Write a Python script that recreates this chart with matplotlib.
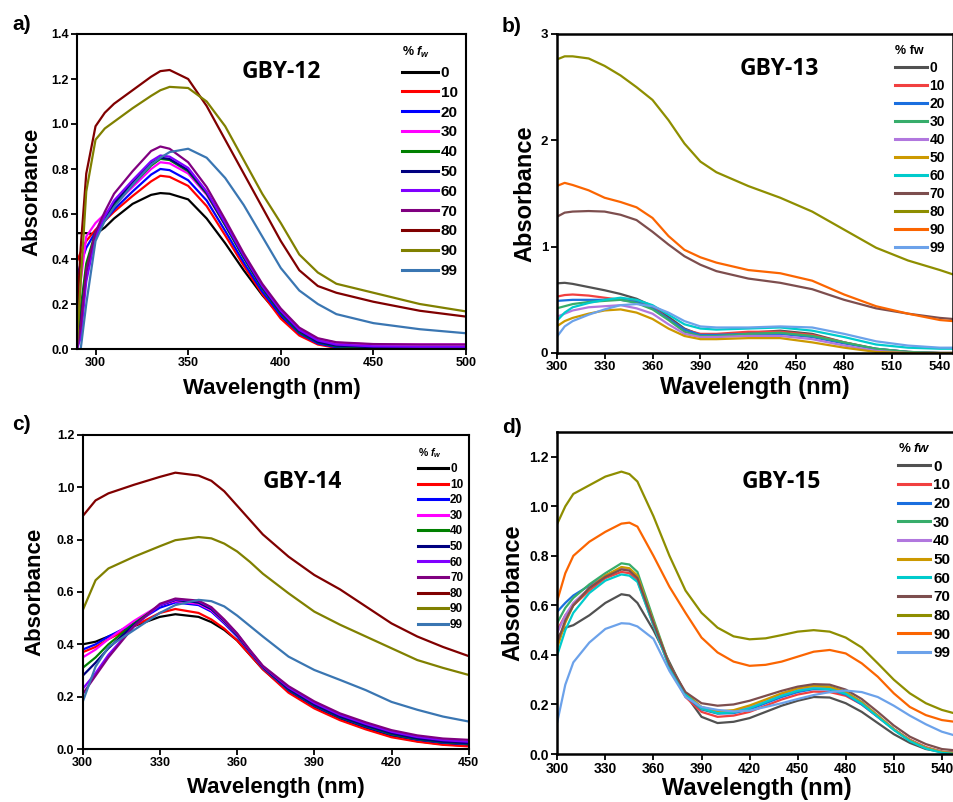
import numpy as np
import matplotlib.pyplot as plt
from matplotlib.ticker import MultipleLocator, FormatStrFormatter

plt.rcParams['font.family'] = ['Liberation Sans', 'DejaVu Sans']
plt.rcParams['font.weight'] = 'bold'
plt.rcParams['mathtext.fontset'] = 'custom'
plt.rcParams['mathtext.it'] = 'Liberation Sans:italic:bold'
plt.rcParams['mathtext.rm'] = 'Liberation Sans:bold'

# water fraction (%) for every series
fw = ['0', '10', '20', '30', '40', '50', '60', '70', '80', '90', '99']

# Origin "standard" and "colorful" palettes
std_colors = ['#000000', '#ff0000', '#0000ff', '#ff00ff', '#008000', '#000080',
              '#8000ff', '#800080', '#800000', '#808000', '#3a76b2']
colorful = ['#515151', '#f14040', '#1a6fdf', '#37ad6b', '#b177de', '#cc9900',
            '#00cbcc', '#7d4e4e', '#8e8e00', '#fb6501', '#6ca2ea']

# ---- GBY-12 ----
a_wl = [290, 292, 295, 300, 305, 310, 320, 330, 335, 340, 350, 360, 370, 380,
        390, 400, 410, 420, 430, 450, 475, 500]
a_abs = [
    [0.515, 0.515, 0.515, 0.51, 0.54, 0.58, 0.645, 0.685, 0.693, 0.69, 0.665, 0.58, 0.47, 0.35, 0.24, 0.145, 0.07, 0.025, 0.008, 0.002, 0.0, 0.0],
    [0.39, 0.43, 0.48, 0.53, 0.57, 0.61, 0.68, 0.745, 0.77, 0.765, 0.725, 0.635, 0.505, 0.37, 0.245, 0.135, 0.06, 0.02, 0.005, 0.0, 0.0, 0.0],
    [0.32, 0.38, 0.45, 0.52, 0.57, 0.62, 0.70, 0.775, 0.80, 0.795, 0.75, 0.66, 0.525, 0.385, 0.255, 0.15, 0.07, 0.025, 0.008, 0.003, 0.002, 0.002],
    [0.05, 0.30, 0.50, 0.56, 0.60, 0.64, 0.72, 0.80, 0.83, 0.825, 0.78, 0.685, 0.55, 0.41, 0.28, 0.175, 0.09, 0.045, 0.028, 0.02, 0.02, 0.02],
    [0.02, 0.18, 0.38, 0.52, 0.58, 0.64, 0.73, 0.815, 0.845, 0.84, 0.79, 0.69, 0.55, 0.405, 0.27, 0.16, 0.075, 0.03, 0.012, 0.006, 0.005, 0.005],
    [0.0, 0.12, 0.34, 0.50, 0.58, 0.65, 0.74, 0.825, 0.85, 0.845, 0.795, 0.695, 0.555, 0.41, 0.275, 0.165, 0.08, 0.032, 0.015, 0.008, 0.007, 0.007],
    [0.0, 0.05, 0.30, 0.50, 0.59, 0.66, 0.75, 0.835, 0.86, 0.855, 0.805, 0.70, 0.56, 0.415, 0.28, 0.17, 0.085, 0.038, 0.02, 0.012, 0.01, 0.01],
    [0.0, 0.10, 0.35, 0.52, 0.61, 0.69, 0.79, 0.88, 0.90, 0.89, 0.83, 0.72, 0.575, 0.425, 0.29, 0.18, 0.095, 0.048, 0.03, 0.022, 0.02, 0.02],
    [0.15, 0.45, 0.78, 0.99, 1.05, 1.09, 1.15, 1.21, 1.235, 1.24, 1.2, 1.08, 0.93, 0.78, 0.63, 0.48, 0.35, 0.28, 0.25, 0.21, 0.17, 0.144],
    [0.02, 0.30, 0.70, 0.93, 0.98, 1.01, 1.07, 1.125, 1.15, 1.165, 1.16, 1.10, 0.99, 0.84, 0.69, 0.56, 0.42, 0.34, 0.29, 0.25, 0.2, 0.167],
    [-0.1, 0.0, 0.2, 0.48, 0.57, 0.63, 0.73, 0.82, 0.85, 0.875, 0.89, 0.85, 0.76, 0.64, 0.5, 0.36, 0.26, 0.2, 0.155, 0.115, 0.088, 0.07],
]

# ---- GBY-13 ----
b_wl = [300, 305, 310, 320, 330, 340, 350, 360, 370, 380, 390, 400, 420, 440,
        460, 480, 500, 520, 540, 548]
b_abs = [
    [0.655, 0.66, 0.65, 0.62, 0.59, 0.555, 0.51, 0.44, 0.34, 0.23, 0.17, 0.16, 0.19, 0.21, 0.18, 0.1, 0.035, 0.01, 0.0, 0.0],
    [0.53, 0.545, 0.55, 0.54, 0.52, 0.5, 0.49, 0.43, 0.32, 0.22, 0.18, 0.18, 0.2, 0.2, 0.17, 0.1, 0.04, 0.01, 0.0, 0.0],
    [0.49, 0.495, 0.5, 0.5, 0.5, 0.5, 0.48, 0.42, 0.32, 0.22, 0.17, 0.17, 0.18, 0.18, 0.15, 0.09, 0.04, 0.01, 0.0, 0.0],
    [0.42, 0.44, 0.46, 0.48, 0.49, 0.5, 0.47, 0.41, 0.31, 0.2, 0.16, 0.16, 0.18, 0.19, 0.16, 0.1, 0.04, 0.01, 0.0, 0.0],
    [0.34, 0.37, 0.4, 0.43, 0.44, 0.45, 0.42, 0.37, 0.27, 0.18, 0.15, 0.15, 0.16, 0.16, 0.13, 0.07, 0.02, 0.0, 0.0, 0.0],
    [0.25, 0.3, 0.33, 0.37, 0.4, 0.41, 0.38, 0.32, 0.23, 0.16, 0.13, 0.13, 0.14, 0.14, 0.1, 0.05, 0.01, 0.0, 0.0, 0.0],
    [0.3, 0.38, 0.43, 0.47, 0.5, 0.52, 0.5, 0.45, 0.36, 0.27, 0.23, 0.22, 0.23, 0.24, 0.21, 0.15, 0.08, 0.05, 0.04, 0.04],
    [1.28, 1.32, 1.33, 1.335, 1.33, 1.3, 1.25, 1.14, 1.02, 0.91, 0.83, 0.77, 0.7, 0.66, 0.6, 0.5, 0.42, 0.37, 0.33, 0.32],
    [2.76, 2.79, 2.79, 2.77, 2.7, 2.61, 2.5, 2.38, 2.19, 1.97, 1.8, 1.7, 1.57, 1.46, 1.33, 1.16, 0.99, 0.87, 0.78, 0.74],
    [1.57, 1.6, 1.58, 1.53, 1.46, 1.42, 1.37, 1.27, 1.1, 0.97, 0.9, 0.85, 0.78, 0.75, 0.68, 0.55, 0.44, 0.37, 0.31, 0.3],
    [0.15, 0.25, 0.3, 0.36, 0.41, 0.45, 0.46, 0.44, 0.38, 0.3, 0.25, 0.24, 0.24, 0.25, 0.24, 0.18, 0.11, 0.07, 0.05, 0.05],
]

# ---- GBY-14 ----
c_wl = [300, 305, 310, 320, 330, 336, 345, 350, 355, 360, 365, 370, 380, 390,
        400, 410, 420, 430, 440, 450]
c_abs = [
    [0.40, 0.41, 0.43, 0.47, 0.505, 0.515, 0.505, 0.485, 0.455, 0.415, 0.36, 0.305, 0.22, 0.16, 0.115, 0.08, 0.05, 0.03, 0.018, 0.012],
    [0.37, 0.39, 0.42, 0.47, 0.52, 0.535, 0.52, 0.495, 0.46, 0.415, 0.36, 0.305, 0.215, 0.155, 0.11, 0.075, 0.045, 0.028, 0.016, 0.01],
    [0.38, 0.40, 0.43, 0.48, 0.54, 0.56, 0.55, 0.525, 0.48, 0.43, 0.37, 0.31, 0.225, 0.165, 0.12, 0.085, 0.055, 0.036, 0.024, 0.018],
    [0.35, 0.38, 0.42, 0.49, 0.55, 0.565, 0.555, 0.53, 0.485, 0.435, 0.372, 0.312, 0.23, 0.17, 0.125, 0.09, 0.06, 0.042, 0.03, 0.025],
    [0.31, 0.35, 0.40, 0.48, 0.55, 0.57, 0.56, 0.535, 0.488, 0.436, 0.373, 0.313, 0.228, 0.168, 0.122, 0.088, 0.057, 0.038, 0.026, 0.02],
    [0.28, 0.33, 0.385, 0.475, 0.55, 0.57, 0.56, 0.535, 0.49, 0.437, 0.374, 0.314, 0.23, 0.17, 0.124, 0.09, 0.06, 0.04, 0.028, 0.022],
    [0.23, 0.29, 0.36, 0.47, 0.55, 0.572, 0.565, 0.54, 0.492, 0.44, 0.376, 0.316, 0.235, 0.176, 0.13, 0.096, 0.066, 0.046, 0.034, 0.028],
    [0.21, 0.28, 0.35, 0.47, 0.555, 0.575, 0.567, 0.542, 0.495, 0.442, 0.378, 0.318, 0.24, 0.182, 0.136, 0.102, 0.072, 0.052, 0.04, 0.035],
    [0.89, 0.95, 0.977, 1.01, 1.04, 1.056, 1.045, 1.025, 0.985, 0.93, 0.875, 0.82, 0.735, 0.665, 0.61, 0.545, 0.48, 0.43, 0.39, 0.355],
    [0.53, 0.645, 0.69, 0.735, 0.775, 0.798, 0.81, 0.805, 0.785, 0.755, 0.715, 0.67, 0.595, 0.525, 0.475, 0.43, 0.385, 0.34, 0.31, 0.283],
    [0.18, 0.315, 0.39, 0.455, 0.52, 0.55, 0.57, 0.565, 0.545, 0.51, 0.47, 0.43, 0.353, 0.302, 0.264, 0.225, 0.18, 0.15, 0.124, 0.105],
]

# ---- GBY-15 ----
d_wl = [300, 305, 310, 320, 330, 340, 345, 350, 360, 370, 380, 390, 400, 410,
        420, 430, 440, 450, 460, 470, 480, 490, 500, 510, 520, 530, 540, 548]
d_abs = [
    [0.47, 0.51, 0.52, 0.56, 0.61, 0.645, 0.64, 0.61, 0.5, 0.37, 0.24, 0.15, 0.125, 0.13, 0.145, 0.17, 0.195, 0.215, 0.23, 0.228, 0.205, 0.17, 0.125, 0.08, 0.045, 0.02, 0.008, 0.005],
    [0.50, 0.56, 0.6, 0.66, 0.71, 0.735, 0.73, 0.70, 0.52, 0.35, 0.23, 0.17, 0.15, 0.155, 0.17, 0.195, 0.22, 0.24, 0.252, 0.25, 0.235, 0.2, 0.15, 0.1, 0.058, 0.028, 0.01, 0.005],
    [0.575, 0.61, 0.64, 0.68, 0.72, 0.75, 0.745, 0.715, 0.53, 0.355, 0.235, 0.18, 0.163, 0.165, 0.18, 0.205, 0.23, 0.25, 0.262, 0.26, 0.24, 0.2, 0.15, 0.1, 0.055, 0.025, 0.008, 0.003],
    [0.53, 0.59, 0.63, 0.685, 0.73, 0.77, 0.765, 0.735, 0.545, 0.36, 0.24, 0.182, 0.165, 0.17, 0.19, 0.215, 0.24, 0.262, 0.275, 0.272, 0.25, 0.21, 0.155, 0.1, 0.055, 0.025, 0.008, 0.003],
    [0.49, 0.56, 0.61, 0.67, 0.72, 0.75, 0.745, 0.715, 0.53, 0.355, 0.24, 0.185, 0.168, 0.172, 0.19, 0.213, 0.237, 0.258, 0.27, 0.268, 0.248, 0.208, 0.155, 0.1, 0.055, 0.025, 0.008, 0.003],
    [0.43, 0.53, 0.6, 0.67, 0.72, 0.755, 0.75, 0.72, 0.535, 0.36, 0.245, 0.19, 0.172, 0.177, 0.196, 0.22, 0.245, 0.265, 0.275, 0.27, 0.25, 0.208, 0.155, 0.1, 0.055, 0.025, 0.008, 0.003],
    [0.40, 0.5, 0.57, 0.65, 0.7, 0.725, 0.72, 0.695, 0.52, 0.35, 0.24, 0.185, 0.165, 0.168, 0.185, 0.21, 0.235, 0.255, 0.265, 0.262, 0.243, 0.203, 0.15, 0.097, 0.052, 0.022, 0.005, 0.0],
    [0.45, 0.54, 0.6, 0.67, 0.715, 0.745, 0.74, 0.71, 0.53, 0.36, 0.25, 0.205, 0.195, 0.2, 0.215, 0.235, 0.255, 0.272, 0.282, 0.28, 0.26, 0.222, 0.17, 0.115, 0.07, 0.04, 0.02, 0.015],
    [0.93, 1.0, 1.05, 1.085, 1.12, 1.14, 1.13, 1.1, 0.96, 0.8, 0.66, 0.57, 0.51, 0.475, 0.463, 0.467, 0.48, 0.494, 0.5, 0.494, 0.47, 0.43, 0.366, 0.3, 0.245, 0.205, 0.178, 0.164],
    [0.62, 0.73, 0.8, 0.857, 0.897, 0.93, 0.934, 0.918, 0.8, 0.675, 0.57, 0.47, 0.41, 0.373, 0.356, 0.36, 0.373, 0.393, 0.413, 0.42, 0.406, 0.366, 0.312, 0.245, 0.19, 0.157, 0.137, 0.13],
    [0.13, 0.28, 0.37, 0.45, 0.505, 0.528, 0.526, 0.515, 0.465, 0.335, 0.23, 0.19, 0.178, 0.172, 0.175, 0.19, 0.205, 0.222, 0.238, 0.25, 0.256, 0.25, 0.23, 0.195, 0.155, 0.12, 0.09, 0.075],
]

W, H = 954, 802
fig = plt.figure(figsize=(W / 100, H / 100), dpi=100)


def px_axes(left, top, right, bottom):
    return fig.add_axes([left / W, 1 - bottom / H, (right - left) / W, (bottom - top) / H])


def draw_panel(ax, wl, abs_rows, colors, name, name_pos, xlim, ylim, xstep, ystep,
               yfmt, lab_size, tick_size, xlab_y, ylab_x, leg_title, leg_anchor,
               leg_size, leg_title_size, handlelen, labspace, spine_w):
    for row, col, lab in zip(abs_rows, colors, fw):
        ax.plot(wl, row, color=col, lw=1.6, label=lab)
    ax.set_xlim(*xlim)
    ax.set_ylim(*ylim)
    ax.xaxis.set_major_locator(MultipleLocator(xstep))
    ax.yaxis.set_major_locator(MultipleLocator(ystep))
    ax.yaxis.set_major_formatter(FormatStrFormatter(yfmt))
    ax.tick_params(direction='out', length=4, width=1.3, labelsize=tick_size, pad=2)
    for sp in ax.spines.values():
        sp.set_linewidth(spine_w)
    ax.set_xlabel('Wavelength (nm)', fontsize=lab_size, fontweight='bold', va='center')
    ax.set_ylabel('Absorbance', fontsize=lab_size, fontweight='bold', va='center')
    ax.xaxis.set_label_coords(0.5, xlab_y)
    ax.yaxis.set_label_coords(ylab_x, 0.5)
    ax.text(name_pos[0], name_pos[1], name, transform=ax.transAxes, ha='center',
            va='center', fontsize=16.5, fontweight='bold', family=['Open Sans', 'DejaVu Sans'])
    leg = ax.legend(loc='upper left', bbox_to_anchor=leg_anchor, frameon=False,
                    fontsize=leg_size, title=leg_title, title_fontsize=leg_title_size,
                    handlelength=handlelen, handletextpad=0.2, labelspacing=labspace,
                    borderpad=0, borderaxespad=0, alignment='left')
    for t in leg.get_texts():
        t.set_fontweight('bold')
    leg.get_title().set_fontweight('bold')
    for ln in leg.get_lines():
        ln.set_linewidth(2.2)


ax_a = px_axes(77, 34, 466, 349)
draw_panel(ax_a, a_wl, a_abs, std_colors, 'GBY-12', (0.524, 0.88), (290, 500), (0, 1.4),
           50, 0.2, '%.1f', 16, 9, -0.124, -0.116, r'% $f_w$', (0.835, 0.965),
           11, 9, 2.35, 0.38, 1.5)

ax_b = px_axes(556.7, 34, 952.7, 353)
draw_panel(ax_b, b_wl, b_abs, colorful, 'GBY-13', (0.562, 0.89), (300, 548), (0, 3),
           30, 1, '%d', 17, 9.5, -0.107, -0.08, '% fw', (0.854, 0.967),
           10, 9, 2.3, 0.29, 1.8)

ax_c = px_axes(82.7, 435, 468.7, 749)
draw_panel(ax_c, c_wl, c_abs, std_colors, 'GBY-14', (0.568, 0.851), (300, 450), (0, 1.2),
           30, 0.2, '%.1f', 16, 9, -0.124, -0.124, r'% $f_w$', (0.869, 0.965),
           8.5, 7.5, 2.5, 0.3, 1.5)

ax_d = px_axes(557.3, 432, 956.3, 754)
draw_panel(ax_d, d_wl, d_abs, colorful, 'GBY-15', (0.562, 0.844), (300, 549), (0, 1.3),
           30, 0.2, '%.1f', 17, 10, -0.106, -0.111, r'% $fw$', (0.854, 0.969),
           11, 9.5, 2.1, 0.305, 1.8)
ax_d.set_yticks(np.arange(0, 1.21, 0.2))

for lab, (x, y) in zip(['a)', 'b)', 'c)', 'd)'], [(22, 24), (512, 27), (21, 425), (512, 428)]):
    fig.text(x / W, 1 - y / H, lab, fontsize=15, fontweight='bold', ha='center', va='center')

fig.savefig('out.png', dpi=100)
